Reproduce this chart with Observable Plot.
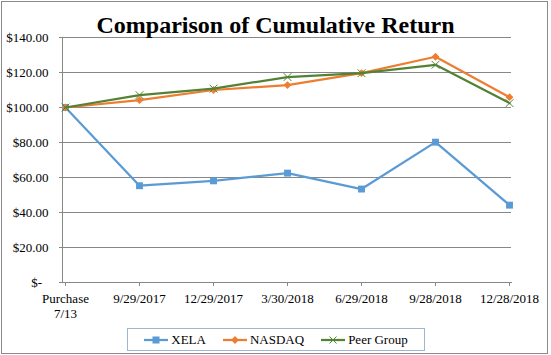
<!DOCTYPE html>
<html>
<head>
<meta charset="utf-8">
<script src="https://cdn.jsdelivr.net/npm/d3@7"></script>
<script src="https://cdn.jsdelivr.net/npm/@observablehq/plot@0.6"></script>
<style>
  html, body { margin: 0; padding: 0; background: #fff; }
  #wrap { position: relative; width: 551px; height: 355px; overflow: hidden; background: #fff; font-family: "Liberation Serif", "Times New Roman", serif; }
  #frame { position: absolute; left: 1px; top: 1px; width: 547px; height: 353px; box-sizing: border-box; border: 1px solid #8a8a8a; pointer-events: none; }
  #title { position: absolute; left: 0; width: 551px; top: 13px; text-align: center; font-weight: bold; font-size: 24px; line-height: 1; color: #000; font-family: "Liberation Serif", serif; }
  #chart { position: absolute; left: 0; top: 0; }
  #chart svg, #chart svg text, #chart svg g { font-family: "Liberation Serif", "Times New Roman", serif !important; }
  #legend { position: absolute; left: 127px; top: 328px; width: 298px; height: 23px; box-sizing: border-box; border: 1px solid #9fb6d0; display: flex; align-items: center; justify-content: center; gap: 17px; font-size: 13px; color: #000; font-family: "Liberation Serif", serif; }
  .item { display: flex; align-items: center; gap: 3px; }
</style>
</head>
<body>
<div id="wrap">
  <div id="chart"></div>
  <div id="title">Comparison of Cumulative Return</div>
  <div id="legend"></div>
  <div id="frame"></div>
</div>
<script>
const categories = ["Purchase\n7/13", "9/29/2017", "12/29/2017", "3/30/2018", "6/29/2018", "9/28/2018", "12/28/2018"];
const seriesNames = ["XELA", "NASDAQ", "Peer Group"];
const xela   = [100, 55.3, 58.1, 62.5, 53.4, 80.2, 44.2];
const nasdaq = [100, 104.2, 110.0, 112.8, 119.6, 129.0, 105.9];
const peer   = [100, 107.1, 110.8, 117.4, 119.6, 124.4, 102.5];
const yTicks = [0, 20, 40, 60, 80, 100, 120, 140];
const colors = ["#5b9bd5", "#ed7d31", "#548235"];

const values = [xela, nasdaq, peer];
const rows = seriesNames.flatMap((s, i) => categories.map((c, j) => ({series: s, date: c, value: values[i][j]})));
const bySeries = s => rows.filter(d => d.series === s);

const fmt = v => v === 0 ? "$-\u00a0\u00a0" : "$" + d3.format(".2f")(v);
const grid = "#878787";

const markOpts = [
  {symbol: "square", r: 3.9, fill: "series"},
  {symbol: "square", r: 3.1, rotate: 45, fill: "series"},
  {symbol: "times", r: 3.6, stroke: "series", strokeWidth: 1}
];

const chart = Plot.plot({
  width: 551,
  height: 355,
  marginLeft: 62,
  marginRight: 40,
  marginTop: 37,
  marginBottom: 73,
  style: {fontFamily: "Liberation Serif, serif", fontSize: "13px", color: "#000", background: "transparent", overflow: "visible"},
  x: {type: "point", domain: categories, padding: 0},
  y: {domain: [0, 140]},
  color: {domain: seriesNames, range: colors},
  marks: [
    Plot.gridY(yTicks, {stroke: grid, strokeOpacity: 1}),
    Plot.axisY(yTicks, {tickFormat: fmt, tickSize: 3, tickPadding: 11, stroke: grid, label: null, fontVariant: "normal"}),
    Plot.frame({anchor: "left", stroke: grid}),
    Plot.frame({anchor: "bottom", stroke: grid}),
    Plot.axisX({tickSize: 4, tickPadding: 6, stroke: grid, label: null, lineHeight: 1.15}),
    ...seriesNames.flatMap((s, i) => [
      Plot.lineY(bySeries(s), {x: "date", y: "value", stroke: "series", strokeWidth: 2.25}),
      Plot.dot(bySeries(s), {x: "date", y: "value", ...markOpts[i]})
    ])
  ]
});
document.getElementById("chart").appendChild(chart);

// legend
const legend = d3.select("#legend");
seriesNames.forEach((s, i) => {
  const item = legend.append("div").attr("class", "item");
  const svg = item.append("svg").attr("width", 24).attr("height", 12);
  svg.append("line").attr("x1", 0).attr("x2", 24).attr("y1", 6).attr("y2", 6).attr("stroke", colors[i]).attr("stroke-width", 2.25);
  if (i === 0) svg.append("rect").attr("x", 8.5).attr("y", 2.5).attr("width", 7).attr("height", 7).attr("fill", colors[i]);
  if (i === 1) svg.append("rect").attr("x", 9.25).attr("y", 3.25).attr("width", 5.5).attr("height", 5.5).attr("fill", colors[i]).attr("transform", "rotate(45 12 6)");
  if (i === 2) svg.append("path").attr("d", "M8.5,2.5L15.5,9.5M15.5,2.5L8.5,9.5").attr("stroke", colors[i]).attr("stroke-width", 1);
  item.append("span").text(s);
});
</script>
</body>
</html>
